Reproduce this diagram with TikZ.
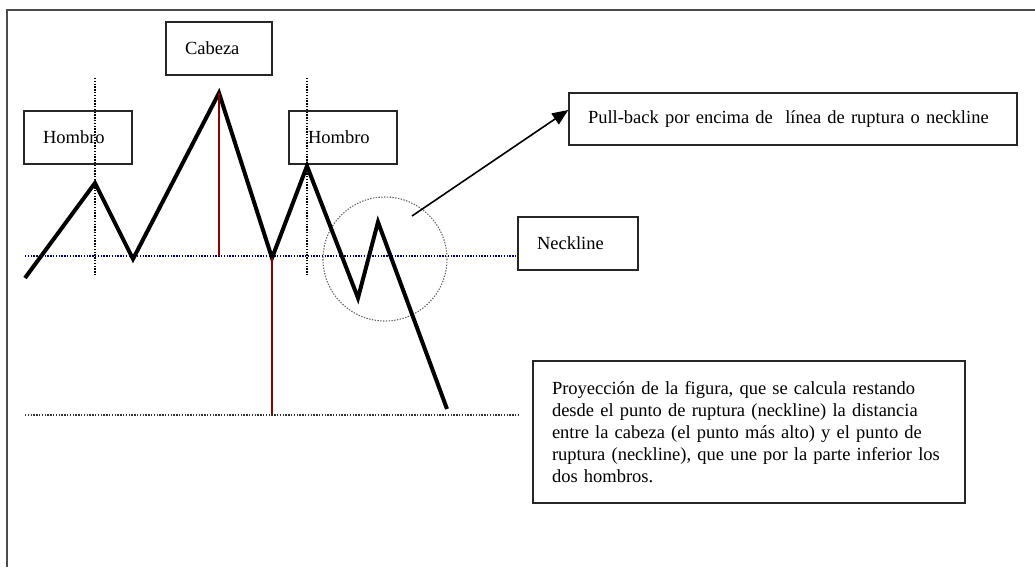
\documentclass[tikz,border=0pt]{standalone}
\usepackage{fontspec}
\setmainfont{Liberation Serif}
\usetikzlibrary{arrows.meta, positioning}

\begin{document}
\begin{tikzpicture}
[x=1pt, y=-1pt,
label/.style={draw=black!85, line width=1.4pt, inner xsep=19pt, inner ysep=0pt,
              align=left, font=\fontsize{18.5}{22}\selectfont},
zig/.style={line width=4pt, line join=miter, black},
guide/.style={line width=1.3pt, dash pattern=on 1.4pt off 1.4pt},
measure/.style={line width=1.1pt, red!55!black}
]
    \useasboundingbox (0,0) rectangle (1035,567);
    % marco exterior
    \draw[line width=2pt, black!70] (7,567) -- (7,10) -- (1035,10);

    \draw[guide, black] (95,78) -- (95,275);
    \draw[guide, black] (307,78) -- (307,275);
    \draw[guide, black!60, line width=1.1pt] (385,259) circle (62);

    \node[label, text width=68pt, minimum height=53pt] (cabeza) at (219,48.5) {Cabeza};
    \node[label, text width=70pt, minimum height=53pt] (hombroL) at (78,137.5) {Hombro};
    \node[label, text width=70pt, minimum height=53pt] (hombroR) at (343,137.5) {Hombro};
    \node[label, text width=410pt, minimum height=52pt] (pullback) at (793,119)
        {Pull-back por encima de\ \ línea de ruptura o neckline};
    \node[label, text width=82pt, minimum height=53pt] (neckline) at (578,243.5) {Neckline};
    \node[label, text width=394pt, minimum height=142pt] (proyeccion) at (749,432)
        {Proyección de la figura, que se calcula restando\\
         desde el punto de ruptura (neckline) la distancia\\
         entre la cabeza (el punto más alto) y el punto de\\
         ruptura (neckline), que une por la parte inferior los\\
         dos hombros.};

    \coordinate (nl0) at (25,256);
    \coordinate (pr0) at (25,415);
    \draw[guide, blue!45!black] (nl0) -- (nl0 -| neckline.west);
    \draw[guide, black!80] (pr0) -- (520,415);

    \draw[zig] (25,278) -- (95,183) -- (133,259) -- (219,93) coordinate (head)
        -- (272,258) coordinate (rup) -- (307,166) -- (358,298) -- (378,222) -- (447,409);

    \draw[measure] (head) -- (head |- nl0);
    \draw[measure] (rup) -- (rup |- pr0);

    \coordinate (pb) at (412,216);
    \draw[line width=1.6pt, -{Triangle[length=16pt, width=13pt]}] (pb) -- ([yshift=9pt]pullback.west);
\end{tikzpicture}
\end{document}
